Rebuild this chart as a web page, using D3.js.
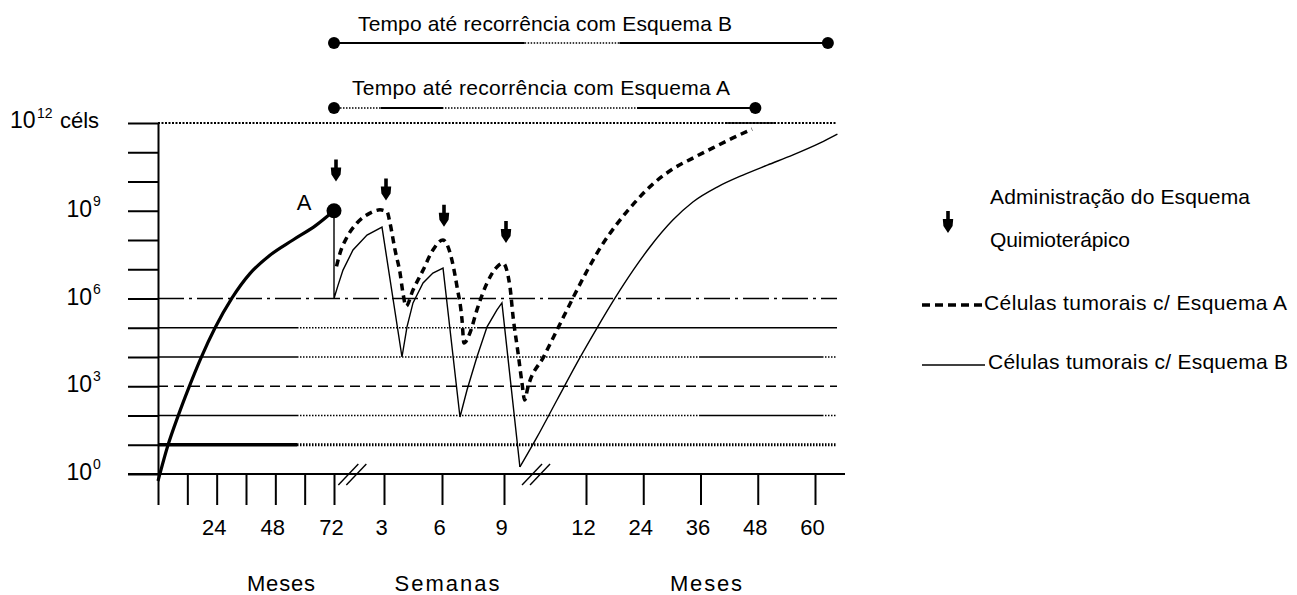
<!DOCTYPE html>
<html><head><meta charset="utf-8">
<script src="https://cdn.jsdelivr.net/npm/d3@7"></script>
<style>
body{margin:0;background:#fff}
svg{display:block}
text{font-family:"Liberation Sans",Arial,sans-serif;fill:#000}
</style>
</head><body>
<svg id="c" width="1297" height="595"></svg>
<script>
// ---------------- DATA ----------------
const logLevels = [0,1,2,3,4,5,6,7,8,9,10,11,12];     // log10(cells)
const logLabels = [0,3,6,9];                           // labelled levels (12 labelled with "céls")
const preMonthTicks = [0,12,24,36,48,60,72];
const preMonthLabels = [24,48,72];
const weekTicks = [3,6,9];
const postMonthTicks = [12,24,36,48,60];

// initial tumour growth (months, log10 cells)
const growthMonths = [0,4.1,8.2,12.7,17.6,23.3,30.3,37.6,45.8,55.2,64.6,72];
const growthLog    = [-0.24,0.99,1.98,2.97,3.97,4.99,6.02,6.85,7.48,8.0,8.5,9.0];

// Esquema A during treatment (weeks after A, log10 cells)
const aTreatWeeks = [0.15,0.36,0.78,1.38,2.16,2.76,3.16,3.31,3.57,3.83,3.98,4.14,4.5,5.02,5.53,6.05,6.39,6.73,6.97,7.06,7.35,7.69,8.18,8.66,8.95,9.29,9.44,9.68,9.87,10.0,10.15];
const aTreatLog   = [7.1,7.55,8.1,8.58,8.92,9.03,8.96,8.58,7.66,6.87,6.19,5.74,6.29,6.97,7.66,8.0,7.56,6.39,5.26,4.48,4.82,5.61,6.53,7.08,7.21,6.39,5.37,4.14,3.11,2.53,2.95];
// Esquema A recurrence (months, log10 cells)
const aRecMonths = [3.2,6.34,9.27,12.2,15.1,18.5,22.1,26.0,30.2,34.4,38.6,42.8,46.8];
const aRecLog    = [4.03,5.06,6.02,6.94,7.76,8.55,9.26,9.91,10.43,10.80,11.15,11.49,11.79];

// Esquema B during treatment
const bTreatWeeks = [0,0,0.24,0.54,1.14,1.98,2.88,3.93,4.19,4.5,5.02,5.53,6.05,6.87,7.21,7.69,8.18,8.66,8.9,9.77];
const bTreatLog   = [9,6,6.45,6.97,7.66,8.17,8.44,4.0,5.03,5.85,6.53,6.87,7.04,1.95,2.87,4.0,5.03,5.61,5.85,0.24];
// Esquema B recurrence
const bRecMonths = [1.73,5.92,10.7,14.3,18.1,21.9,25.4,30.2,34.4,39.5,44.9,50.0,55.4,61.1,64.7];
const bRecLog    = [1.26,2.53,3.97,4.99,6.02,6.97,7.76,8.68,9.3,9.81,10.22,10.56,10.91,11.32,11.62];

// chemotherapy administrations (weeks) and arrow tip level (log10)
const doseWeeks = [0,3,6,9];
const doseArrowLog = [10.0,9.35,8.45,7.9];

// time to recurrence (months after treatment)
const recurrenceA = 47.5;
const recurrenceB = 62.7;

// ---------------- SCALES ----------------
const svg = d3.select('#c');
const y = d3.scaleLinear().domain([0,12]).range([474,123]);
const xPre = d3.scaleLinear().domain([0,72]).range([158,334]);
const xWk = d3.scaleLinear().domain([0,3,6,9]).range([334,384,442,504]);
const xPost = d3.scaleLinear().domain([12,60]).range([586,815]);

// ---------------- GUIDE LINES ----------------
function hseg(x1,x2,lv,w,dash){
  svg.append('line').attr('x1',x1).attr('x2',x2).attr('y1',y(lv)).attr('y2',y(lv))
    .attr('stroke','#000').attr('stroke-width',w).attr('stroke-dasharray',dash||null);
}
const DOT='1.5 1.5';
hseg(158,837,12,2,'2 1.5'); hseg(727,775,12,1.6);
hseg(158,837,6,1.6,'26 5 3 5');
hseg(158,297,5,1.6); hseg(297,477,5,1.6,DOT); hseg(477,837,5,1.6);
hseg(158,297,4,1.6); hseg(297,700,4,1.6,DOT); hseg(700,822,4,1.6); hseg(822,837,4,1.6,DOT);
hseg(158,837,3,1.6,'10 6');
hseg(158,297,2,1.6); hseg(297,700,2,1.6,DOT); hseg(700,822,2,1.6); hseg(822,837,2,1.6,DOT);
hseg(158,297,1,3.5); hseg(297,837,1,3,DOT);

// ---------------- AXES ----------------
const gy = svg.append('g').attr('transform','translate(158,0)')
  .call(d3.axisLeft(y).tickValues(logLevels).tickSize(30).tickSizeOuter(0).tickFormat(''));
gy.selectAll('line,path').attr('stroke','#000').attr('stroke-width',2);

svg.append('line').attr('x1',128).attr('x2',845).attr('y1',y(0)).attr('y2',y(0))
  .attr('stroke','#000').attr('stroke-width',2);

function xAxis(scale,ticks,fmt){
  const g = svg.append('g').attr('transform',`translate(0,${y(0)})`)
    .call(d3.axisBottom(scale).tickValues(ticks).tickSize(31).tickSizeOuter(0).tickPadding(14).tickFormat(fmt));
  g.select('.domain').remove();
  g.selectAll('line').attr('stroke','#000').attr('stroke-width',2);
  g.attr('font-size',22).attr('font-family','"Liberation Sans", Arial, sans-serif');
  g.selectAll('text').attr('x',-3).attr('fill','#000');
}
xAxis(xPre,preMonthTicks,d=>preMonthLabels.includes(d)?d:'');
xAxis(xWk,weekTicks,d=>d);
xAxis(xPost,postMonthTicks,d=>d);

// axis breaks
[xWk(1.1), xWk(10.55)].forEach(bx=>{
  [-10,-2].forEach(o=>{
    svg.append('line').attr('x1',bx+o-4).attr('y1',485).attr('x2',bx+o+16).attr('y2',464)
      .attr('stroke','#000').attr('stroke-width',1.4);
  });
});

// y labels
logLabels.forEach(l=>{
  svg.append('text').attr('x',92).attr('y',y(l)+6).attr('text-anchor','end').attr('font-size',23).text('10');
  svg.append('text').attr('x',93).attr('y',y(l)-5).attr('font-size',14).text(l);
});
svg.append('text').attr('x',10).attr('y',y(12)+5).attr('font-size',23).text('10');
svg.append('text').attr('x',37).attr('y',y(12)-5).attr('font-size',14).text('12');
svg.append('text').attr('x',60).attr('y',y(12)+5).attr('font-size',22).text('céls');

// axis titles
svg.append('text').attr('x',281).attr('y',591).attr('text-anchor','middle').attr('font-size',22)
  .attr('textLength',68).attr('lengthAdjust','spacing').text('Meses');
svg.append('text').attr('x',447).attr('y',591).attr('text-anchor','middle').attr('font-size',22)
  .attr('textLength',105).attr('lengthAdjust','spacing').text('Semanas');
svg.append('text').attr('x',706).attr('y',591).attr('text-anchor','middle').attr('font-size',22)
  .attr('textLength',72).attr('lengthAdjust','spacing').text('Meses');

// ---------------- CURVES ----------------
const growthPts = growthMonths.map((m,i)=>[xPre(m), y(growthLog[i])]);
const aPts = aTreatWeeks.map((w,i)=>[xWk(w), y(aTreatLog[i])])
  .concat(aRecMonths.map((m,i)=>[xPost(m), y(aRecLog[i])]));
const bTreatPts = bTreatWeeks.map((w,i)=>[xWk(w), y(bTreatLog[i])]);
const bRecPts = [bTreatPts[bTreatPts.length-1]].concat(bRecMonths.map((m,i)=>[xPost(m), y(bRecLog[i])]));

const smooth = d3.line().curve(d3.curveMonotoneX);
const straight = d3.line();

svg.append('path').attr('d',smooth(growthPts)).attr('fill','none').attr('stroke','#000').attr('stroke-width',3.2);
svg.append('path').attr('d',straight(bTreatPts)).attr('fill','none').attr('stroke','#000').attr('stroke-width',1.4).attr('stroke-linejoin','miter');
svg.append('path').attr('d',smooth(bRecPts)).attr('fill','none').attr('stroke','#000').attr('stroke-width',1.4);
svg.append('path').attr('d',smooth(aPts)).attr('fill','none').attr('stroke','#000').attr('stroke-width',3.5).attr('stroke-dasharray','7 5');

// point A
svg.append('circle').attr('cx',xPre(72)).attr('cy',y(9)).attr('r',7.5).attr('fill','#000');
svg.append('text').attr('x',304).attr('y',210).attr('text-anchor','middle').attr('font-size',22).text('A');

// chemo arrows
const arrowPath = 'M-1.8,-22 L1.8,-22 L1.8,-14 L5.2,-14 L4.6,-7 L0,0 L-4.6,-7 L-5.2,-14 L-1.8,-14 Z';
doseWeeks.forEach((w,i)=>{
  svg.append('path').attr('d',arrowPath).attr('fill','#000')
    .attr('transform',`translate(${xWk(w)+2},${y(doseArrowLog[i])})`);
});

// ---------------- RECURRENCE BARS ----------------
const bx1 = xWk(0), bBx2 = xPost(recurrenceB), aBx2 = xPost(recurrenceA);
function bar(x1,x2,yy,w,dash){
  svg.append('line').attr('x1',x1).attr('x2',x2).attr('y1',yy).attr('y2',yy)
    .attr('stroke','#000').attr('stroke-width',w).attr('stroke-dasharray',dash||null);
}
bar(bx1,xWk(10),43,1.8); bar(xWk(10),xPost(19),43,1.5,'1.5 1.5'); bar(xPost(19),bBx2,43,1.8);
bar(bx1,aBx2,108,1.6,'1.5 1.5'); bar(xWk(2.8),xWk(6.05),108,1.8); bar(xPost(22.7),aBx2,108,1.8);
[[bx1,43],[bBx2,43],[bx1,108],[aBx2,108]].forEach(p=>{
  svg.append('circle').attr('cx',p[0]).attr('cy',p[1]).attr('r',6).attr('fill','#000');
});
svg.append('text').attr('x',358).attr('y',31).attr('font-size',21)
  .attr('textLength',374).attr('lengthAdjust','spacing').text('Tempo até recorrência com Esquema B');
svg.append('text').attr('x',352).attr('y',95).attr('font-size',21)
  .attr('textLength',378).attr('lengthAdjust','spacing').text('Tempo até recorrência com Esquema A');

// ---------------- LEGEND ----------------
svg.append('path').attr('d',arrowPath).attr('fill','#000').attr('transform','translate(948,233)');
svg.append('text').attr('x',990).attr('y',204).attr('font-size',21)
  .attr('textLength',260).attr('lengthAdjust','spacing').text('Administração do Esquema');
svg.append('text').attr('x',990).attr('y',247).attr('font-size',21)
  .attr('textLength',140).attr('lengthAdjust','spacing').text('Quimioterápico');
svg.append('line').attr('x1',922).attr('x2',982).attr('y1',305).attr('y2',305)
  .attr('stroke','#000').attr('stroke-width',3.5).attr('stroke-dasharray','8 5');
svg.append('text').attr('x',984).attr('y',310).attr('font-size',21)
  .attr('textLength',303).attr('lengthAdjust','spacing').text('Células tumorais c/ Esquema A');
svg.append('line').attr('x1',922).attr('x2',985).attr('y1',365).attr('y2',365)
  .attr('stroke','#000').attr('stroke-width',1.4);
svg.append('text').attr('x',988).attr('y',369).attr('font-size',21)
  .attr('textLength',300).attr('lengthAdjust','spacing').text('Células tumorais c/ Esquema B');
</script>
</body></html>
